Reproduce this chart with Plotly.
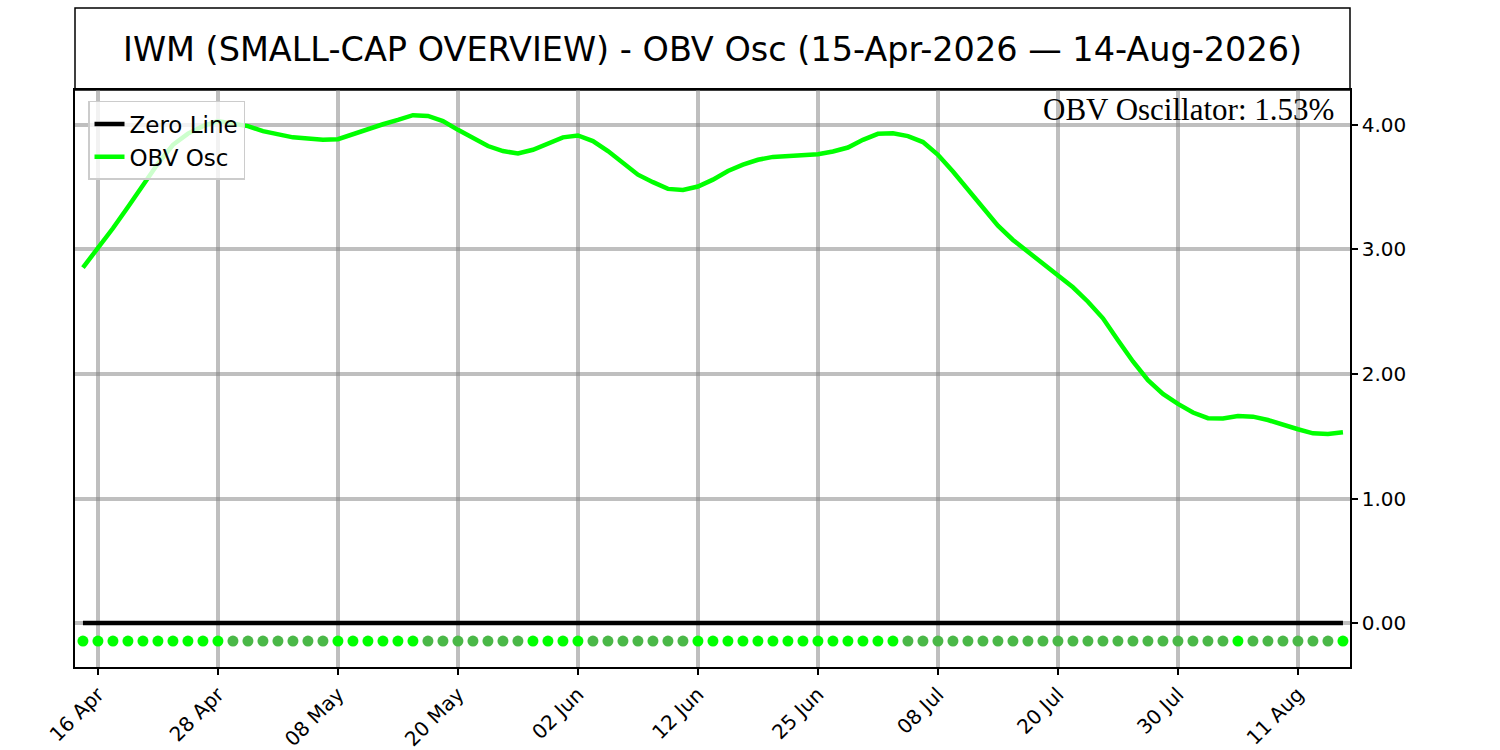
import plotly.graph_objects as go
import pandas as pd

# trading days (US market calendar, holidays removed)
holidays = ["2026-05-25", "2026-06-19", "2026-07-03"]
dates = [d.strftime("%Y-%m-%d") for d in
         pd.bdate_range("2026-04-15", "2026-08-14", freq="C", holidays=holidays)]

# OBV oscillator values (%)
obv_osc = [
    2.854, 3.01, 3.17, 3.34, 3.52, 3.69, 3.84, 3.93, 3.99, 4.03,
    4.01, 3.99, 3.95, 3.925, 3.90, 3.89, 3.88, 3.885, 3.925, 3.97,
    4.005, 4.04, 4.078, 4.072, 4.03, 3.96, 3.89, 3.83, 3.79, 3.77,
    3.80, 3.85, 3.90, 3.915, 3.87, 3.79, 3.69, 3.60, 3.54, 3.486,
    3.478, 3.505, 3.56, 3.63, 3.68, 3.72, 3.743, 3.748, 3.759, 3.764,
    3.786, 3.818, 3.88, 3.928, 3.932, 3.91, 3.862, 3.76, 3.625, 3.478,
    3.33, 3.19, 3.076, 2.98, 2.883, 2.787, 2.696, 2.58, 2.447, 2.27,
    2.10, 1.95, 1.84, 1.76, 1.69, 1.645, 1.643, 1.663, 1.657, 1.63,
    1.59, 1.556, 1.523, 1.518, 1.532,
]

# 1 = oscillator rising (bright dot), 0 = falling (dim dot)
rising = ([1] * 10 + [0] * 7 + [1] * 6 + [0] * 7 + [1] * 4 + [0] * 7
          + [1] * 14 + [0] * 22 + [1] + [0] * 6 + [1])

tick_dates = ["2026-04-16", "2026-04-28", "2026-05-08", "2026-05-20", "2026-06-02",
              "2026-06-12", "2026-06-25", "2026-07-08", "2026-07-20", "2026-07-30",
              "2026-08-11"]
tick_labels = ["16 Apr", "28 Apr", "08 May", "20 May", "02 Jun", "12 Jun",
               "25 Jun", "08 Jul", "20 Jul", "30 Jul", "11 Aug"]
y_ticks = [0, 1, 2, 3, 4]

title_text = "IWM (SMALL-CAP OVERVIEW) - OBV Osc (15-Apr-2026 \u2014 14-Aug-2026)"
last_label = "OBV Oscillator: %.2f%%" % obv_osc[-1]

BRIGHT = "#00ff00"
DIM = "#4ab847"
GRID = "rgba(128,128,128,0.5)"
DOT_Y = -0.145

fig = go.Figure()

fig.add_trace(go.Scatter(
    x=dates, y=[0] * len(dates), mode="lines", name="Zero Line",
    line=dict(color="black", width=4.5),
))
fig.add_trace(go.Scatter(
    x=dates, y=obv_osc, mode="lines", name="OBV Osc",
    line=dict(color=BRIGHT, width=4.5),
))
fig.add_trace(go.Scatter(
    x=dates, y=[DOT_Y] * len(dates), mode="markers", showlegend=False,
    marker=dict(size=11, color=[BRIGHT if r else DIM for r in rising], line=dict(width=0)),
))

# title box above the plot area
fig.add_shape(type="rect", xref="paper", yref="paper", x0=0, x1=1, y0=1, y1=1.142,
              line=dict(color="black", width=1.5), fillcolor="white", layer="below")
fig.add_annotation(text=title_text, xref="paper", yref="paper", x=0.5, y=1.071,
                   xanchor="center", yanchor="middle", showarrow=False,
                   font=dict(family="DejaVu Sans", size=33.5, color="black"))
fig.add_annotation(text=last_label, xref="paper", yref="paper", x=0.989, y=0.966,
                   xanchor="right", yanchor="middle", showarrow=False,
                   font=dict(family="Liberation Serif", size=31, color="black"))

fig.update_layout(
    width=1500, height=750,
    margin=dict(l=75, r=150, t=90, b=83, autoexpand=False),
    paper_bgcolor="white", plot_bgcolor="white",
    font=dict(family="DejaVu Sans", size=20, color="black"),
    legend=dict(x=0.0102, y=0.981, xanchor="left", yanchor="top",
                bgcolor="rgba(255,255,255,0.8)", bordercolor="#cccccc", borderwidth=1.5,
                font=dict(size=23), itemwidth=30, tracegroupgap=0),
)

fig.update_xaxes(
    type="category", range=[-0.53, 84.47],
    tickmode="array", tickvals=tick_dates, ticktext=tick_labels, tickangle=-45,
    ticks="outside", ticklen=6, tickwidth=1.5, tickcolor="black",
    showgrid=True, gridcolor=GRID, gridwidth=4,
    showline=True, linecolor="black", linewidth=1.5, mirror=True,
    zeroline=False, automargin=False, tickfont=dict(size=20),
)
fig.update_yaxes(
    side="right", range=[-0.353, 4.28],
    tickmode="array", tickvals=y_ticks, tickformat=".2f",
    ticks="outside", ticklen=6, tickwidth=1.5, tickcolor="black",
    showgrid=True, gridcolor=GRID, gridwidth=4,
    showline=True, linecolor="black", linewidth=1.5, mirror=True,
    zeroline=False, automargin=False, tickfont=dict(size=20),
)

fig.write_html("out.html", config={"displayModeBar": False},
               post_script="document.body.style.margin='0px';")
